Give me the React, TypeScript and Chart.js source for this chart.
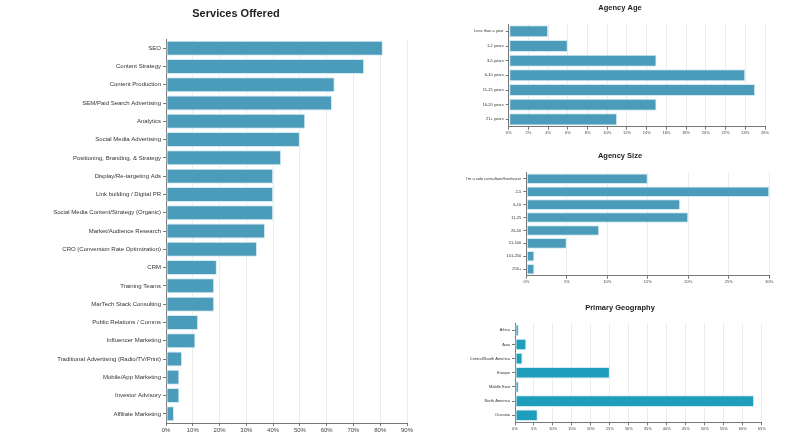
import React, { useEffect, useRef } from 'react';
import { Chart, registerables } from 'chart.js';

Chart.register(...registerables);

const FONT = '"Helvetica Neue", Helvetica, Arial, "Liberation Sans", sans-serif';

// Services Offered
const serviceLabels = [
  'SEO',
  'Content Strategy',
  'Content Production',
  'SEM/Paid Search Advertising',
  'Analytics',
  'Social Media Advertising',
  'Positioning, Branding, & Strategy',
  'Display/Re-targeting Ads',
  'Link building / Digital PR',
  'Social Media Content/Strategy (Organic)',
  'Market/Audience Research',
  'CRO (Conversion Rate Optimization)',
  'CRM',
  'Training Teams',
  'MarTech Stack Consulting',
  'Public Relations / Comms',
  'Influencer Marketing',
  'Traditional Advertising (Radio/TV/Print)',
  'Mobile/App Marketing',
  'Investor Advisory',
  'Affiliate Marketing',
];
const serviceValues = [81, 74, 63, 62, 52, 50, 43, 40, 40, 40, 37, 34, 19, 18, 18, 12, 11, 6, 5, 5, 3];

// Agency Age
const ageLabels = ['Less than a year', '1-2 years', '3-5 years', '6-10 years', '11-15 years', '16-20 years', '21+ years'];
const ageValues = [4, 6, 15, 24, 25, 15, 11];

// Agency Size
const sizeLabels = ["I'm a solo consultant/freelancer", '2-5', '6-10', '11-25', '26-50', '51-100', '101-250', '250+'];
const sizeValues = [15, 30, 19, 20, 9, 5, 1, 1];

// Primary Geography
const geoLabels = ['Africa', 'Asia', 'Central/South America', 'Europe', 'Middle East', 'North America', 'Oceania'];
const geoValues = [1, 3, 2, 25, 1, 63, 6];

interface HBarProps {
  title: string;
  labels: string[];
  values: number[];
  max: number;
  step: number;
  color: string;
  titleSize: number;
  tickSize: number;
  left: number;
  top: number;
  width: number;
  height: number;
  plotLeft: number;
  plotTop: number;
  plotRight: number;
  plotBottom: number;
  titleY: number;
}

const HBar: React.FC<HBarProps> = (p) => {
  const canvasRef = useRef<HTMLCanvasElement | null>(null);

  useEffect(() => {
    if (!canvasRef.current) return;
    const lh = p.titleSize * 1.2;
    const chart = new Chart(canvasRef.current, {
      type: 'bar',
      data: {
        labels: p.labels,
        datasets: [
          {
            data: p.values,
            xAxisID: 'x',
            yAxisID: 'y',
            backgroundColor: p.color,
            borderColor: '#d3eaf2',
            borderWidth: 1,
            borderSkipped: false,
            barPercentage: 1,
            categoryPercentage: 0.82,
          },
        ],
      },
      options: {
        responsive: false,
        animation: false,
        indexAxis: 'y',
        layout: { padding: 0 },
        plugins: {
          legend: { display: false },
          tooltip: { enabled: false },
          title: {
            display: true,
            text: p.title,
            color: '#222',
            font: { family: FONT, size: p.titleSize, weight: 'bold', lineHeight: 1.2 },
            padding: { top: p.titleY - lh / 2, bottom: p.plotTop - p.titleY - lh / 2 },
          },
        },
        scales: {
          x: {
            type: 'linear',
            min: 0,
            max: p.max,
            ticks: {
              stepSize: p.step,
              autoSkip: false,
              maxRotation: 0,
              padding: 1,
              color: '#444',
              font: { family: FONT, size: p.tickSize },
              callback: (v) => `${v}%`,
            },
            grid: { color: '#ececec', tickColor: '#777', tickLength: 3 },
            border: { color: '#777' },
            afterFit: (s) => {
              s.height = p.height - p.plotBottom;
            },
          },
          y: {
            type: 'category',
            ticks: {
              autoSkip: false,
              padding: 2,
              color: '#333',
              font: { family: FONT, size: p.tickSize },
            },
            grid: { offset: false, drawOnChartArea: false, tickColor: '#777', tickLength: 3 },
            border: { color: '#777' },
            afterFit: (s) => {
              s.width = p.plotLeft;
            },
          },
          pad: {
            type: 'linear',
            position: 'right',
            ticks: { display: false },
            grid: { display: false },
            border: { display: false },
            afterFit: (s) => {
              s.width = p.width - p.plotRight;
            },
          },
        },
      },
    });
    return () => chart.destroy();
  }, [p]);

  return (
    <div style={{ position: 'absolute', left: p.left, top: p.top, width: p.width, height: p.height }}>
      <canvas ref={canvasRef} width={p.width} height={p.height} />
    </div>
  );
};

const App: React.FC = () => {
  return (
    <div style={{ position: 'fixed', left: 0, top: 0, width: 800, height: 445, background: '#fff', overflow: 'hidden' }}>
      <HBar
        title="Services Offered"
        labels={serviceLabels}
        values={serviceValues}
        max={90}
        step={10}
        color="#4a9cba"
        titleSize={11}
        tickSize={6}
        left={0}
        top={0}
        width={472}
        height={445}
        plotLeft={166}
        plotTop={39}
        plotRight={407}
        plotBottom={423}
        titleY={14}
      />
      <HBar
        title="Agency Age"
        labels={ageLabels}
        values={ageValues}
        max={26}
        step={2}
        color="#4a9cba"
        titleSize={7.5}
        tickSize={4}
        left={460}
        top={0}
        width={320}
        height={140}
        plotLeft={48.7}
        plotTop={24}
        plotRight={305}
        plotBottom={126.7}
        titleY={8.3}
      />
      <HBar
        title="Agency Size"
        labels={sizeLabels}
        values={sizeValues}
        max={30}
        step={5}
        color="#4a9cba"
        titleSize={7.5}
        tickSize={4}
        left={460}
        top={145}
        width={320}
        height={145}
        plotLeft={66.3}
        plotTop={27.3}
        plotRight={309.3}
        plotBottom={130.7}
        titleY={10.7}
      />
      <HBar
        title="Primary Geography"
        labels={geoLabels}
        values={geoValues}
        max={65}
        step={5}
        color="#1f9ebc"
        titleSize={7.5}
        tickSize={4}
        left={460}
        top={297}
        width={320}
        height={145}
        plotLeft={55}
        plotTop={26.3}
        plotRight={301.7}
        plotBottom={125.3}
        titleY={10.7}
      />
    </div>
  );
};

export default App;
